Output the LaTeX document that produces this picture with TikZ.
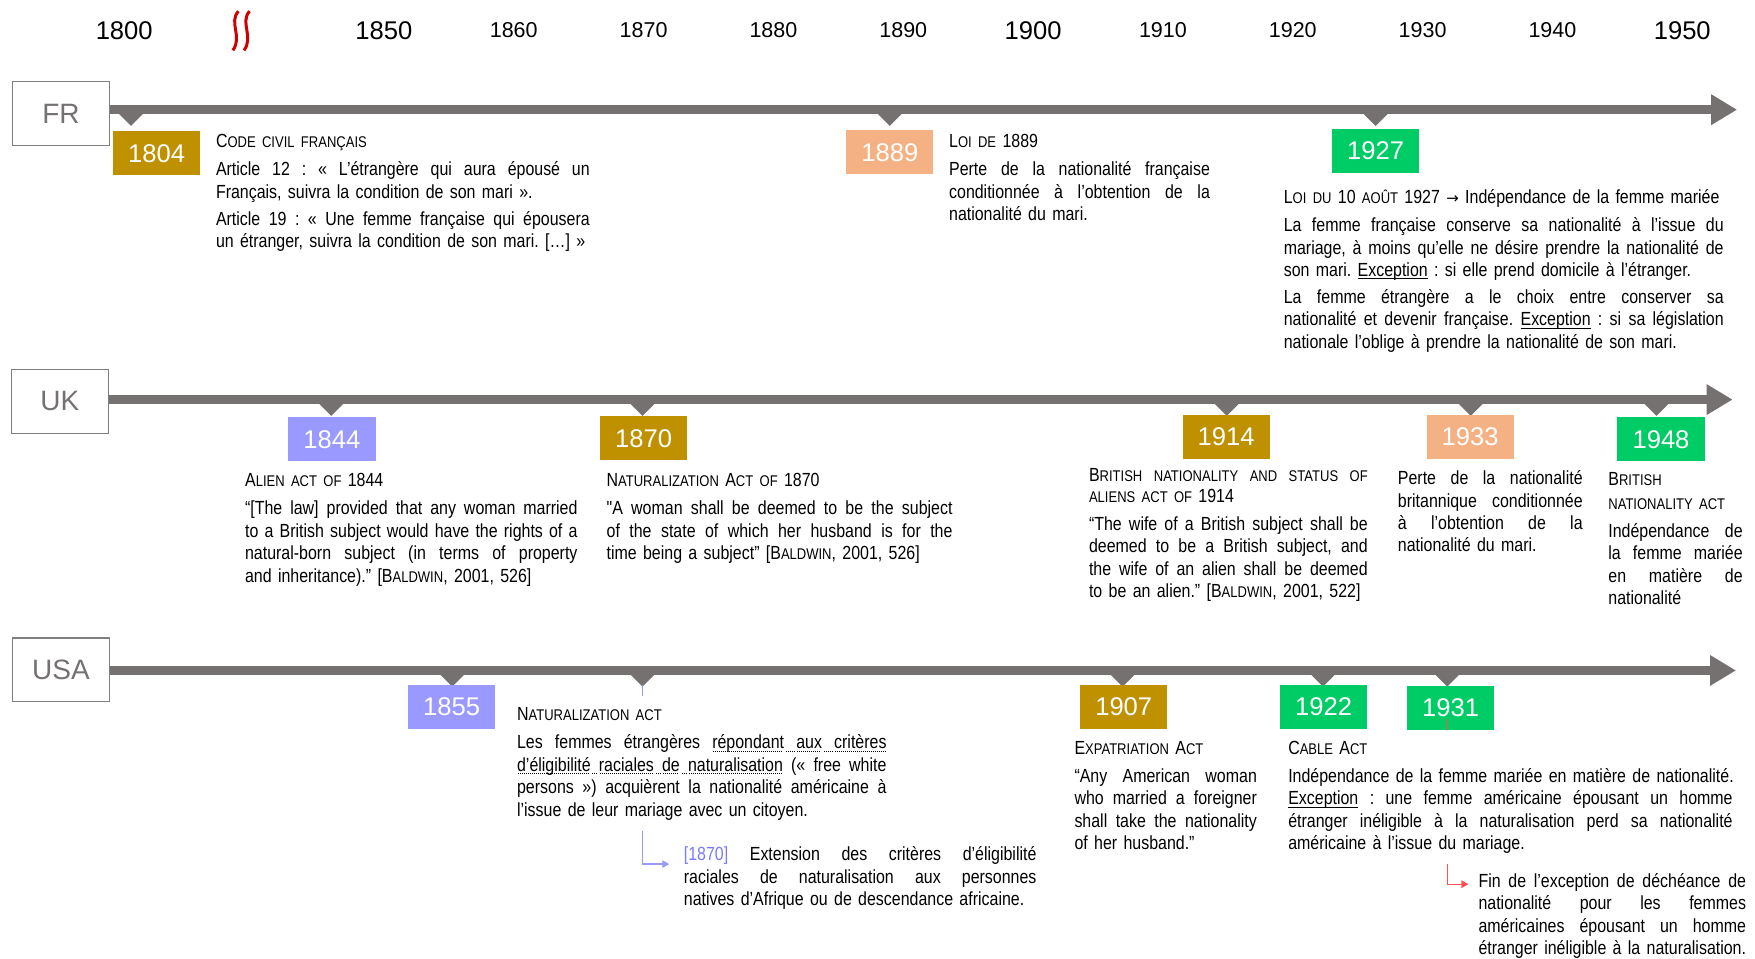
\documentclass[tikz,border=0pt]{standalone}
\usepackage{fontspec}
\setmainfont{Liberation Sans}
\newfontfamily\nar[FakeStretch=0.84]{Liberation Sans}
\newfontfamily\dejavu{DejaVu Sans}
\usetikzlibrary{arrows.meta}
\definecolor{tlgray}{HTML}{767171}
\definecolor{boxgray}{HTML}{7F7F7F}
\definecolor{cgold}{HTML}{BF9000}
\definecolor{csalmon}{HTML}{F4B183}
\definecolor{clav}{HTML}{9999FF}
\definecolor{cgreen}{HTML}{00CC66}
\definecolor{clavtxt}{HTML}{7B7BFF}
\definecolor{cred}{HTML}{FF5050}
\definecolor{csq}{HTML}{D00000}
\frenchspacing
\newcommand\bodyf{\nar\fontsize{19pt}{22.4pt}\selectfont}
\newcommand\sm[1]{{\fontsize{15.5pt}{22.4pt}\selectfont #1}}
\newcommand\J[1]{{\spaceskip=\fontdimen2\font plus 1fil\relax\xspaceskip=\spaceskip\makebox[\linewidth][s]{#1}}}
\newcommand\E[1]{\makebox[\linewidth][l]{#1}}
\newcommand\ul[1]{\setbox0\hbox{#1}\rlap{\rule[-2.6pt]{\wd0}{0.8pt}}\box0\relax}
\newcommand\dotmark{\hbox to 2pt{\hss\rule[-3pt]{0.8pt}{0.8pt}\hss}}
\newcommand\du[1]{\setbox0\hbox{#1}\rlap{\hbox to \wd0{\leaders\dotmark\hfill}}\box0\relax}
\newcommand\dsp{\leaders\dotmark\hskip\fontdimen2\font plus 1fil\relax}
\newcommand\rarr{{\dejavu\fontsize{15pt}{22.4pt}\selectfont →}}
\tikzset{
  tline/.style={draw=tlgray, line width=9pt, -{Triangle[length=26pt,width=29pt]}},
  cbox/.style={draw=boxgray, line width=1.3pt, fill=white, minimum width=97pt, minimum height=63.8pt, inner sep=0, text=tlgray, font=\fontsize{28pt}{28pt}\selectfont},
  ybox/.style={minimum width=87.3pt, minimum height=43.7pt, inner sep=0, text=white, font=\fontsize{25.6pt}{25.6pt}\selectfont},
  yrL/.style={font=\fontsize{25.6pt}{25.6pt}\selectfont, inner sep=0},
  yrS/.style={font=\fontsize{21.5pt}{21.5pt}\selectfont, inner sep=0},
  txt/.style={anchor=base west, inner sep=0, outer sep=0, align=left, font=\bodyf},
  tri/.pic={\fill[tlgray] (-14.5,0) -- (14.5,0) -- (0,14.5) -- cycle;},
  lavarrow/.style={draw=clav, line width=1.3pt, -{Triangle[length=7pt,width=7.5pt]}},
  redarrow/.style={draw=cred, line width=1.3pt, -{Triangle[length=7pt,width=7.5pt]}},
}
\begin{document}
\begin{tikzpicture}[x=1.1193pt,y=-1.1193pt]
\useasboundingbox[fill=white] (0,0) rectangle (1568,856);
% year axis
\node[yrL] (y1800) at (111,27) {1800};
\node[yrL] (y1850) at (343,27) {1850};
\node[yrS] (y1860) at (459,27) {1860};
\node[yrS] (y1870) at (575,27) {1870};
\node[yrS] (y1880) at (691,27) {1880};
\node[yrS] (y1890) at (807,27) {1890};
\node[yrL] (y1900) at (923,27) {1900};
\node[yrS] (y1910) at (1039,27) {1910};
\node[yrS] (y1920) at (1155,27) {1920};
\node[yrS] (y1930) at (1271,27) {1930};
\node[yrS] (y1940) at (1387,27) {1940};
\node[yrL] (y1950) at (1503,27) {1950};
\draw[csq, line width=3pt] (213,10) .. controls (204,20) and (217,33) .. (208,45);
\draw[csq, line width=3pt] (223,10) .. controls (214,20) and (227,33) .. (218,45);
% timelines
\node[cbox] (FR) at (54.5,101.5) {FR};
\node[cbox] (UK) at (53.5,358.5) {UK};
\node[cbox] (USA) at (54.5,598.5) {USA};
\coordinate (FRend) at (1552,98);
\coordinate (UKend) at (1548,357);
\coordinate (USAend) at (1551,599);
\draw[tline] (FR.east |- FRend) -- (FRend);
\draw[tline] (UK.east |- UKend) -- (UKend);
\draw[tline] (USA.east |- USAend) -- (USAend);
% markers
\foreach \x in {117,795,1229} \pic at (\x,98) {tri};
\foreach \x in {296,574,1096,1314,1480} \pic at (\x,357) {tri};
\foreach \x in {404,574,1003,1182,1293} \pic at (\x,599) {tri};
% year boxes
\node[ybox, fill=cgold] (b1804) at (140,137) {1804};
\node[ybox, fill=csalmon] (b1889) at (795,136) {1889};
\node[ybox, fill=cgreen] (b1927) at (1229,135) {1927};
\node[ybox, fill=clav] (b1844) at (296.5,392.5) {1844};
\node[ybox, fill=cgold] (b1870) at (575,391.5) {1870};
\node[ybox, fill=cgold] (b1914) at (1095.5,390.5) {1914};
\node[ybox, fill=csalmon] (b1933) at (1313.5,390.5) {1933};
\node[ybox, fill=cgreen] (b1948) at (1484,392.5) {1948};
\node[ybox, fill=clav] (b1855) at (403.5,631.5) {1855};
\node[ybox, fill=cgold] (b1907) at (1004,631.5) {1907};
\node[ybox, fill=cgreen] (b1922) at (1182.5,631.5) {1922};
\node[ybox, fill=cgreen] (b1931) at (1296,632.5) {1931};
% FR texts
\node[txt, text width=373.8pt] (t1804) at (193,132) {C\sm{ODE CIVIL FRANÇAIS}\\[5.6pt]
\J{Article 12 : « L’étrangère qui aura épousé un}\\
\E{Français, suivra la condition de son mari ».}\\[4.5pt]
\J{Article 19 : « Une femme française qui épousera}\\
\E{un étranger, suivra la condition de son mari. […] »}};
\node[txt, text width=260.8pt] (t1889) at (848,132) {L\sm{OI DE} 1889\\[5.6pt]
\J{Perte de la nationalité française}\\
\J{conditionnée à l’obtention de la}\\
\E{nationalité du mari.}};
\node[txt, text width=439.9pt] (t1927) at (1147,182) {\E{L\sm{OI DU} 10 \sm{AOÛT} 1927 \rarr{} Indépendance de la femme mariée}\\[5.6pt]
\J{La femme française conserve sa nationalité à l’issue du}\\
\J{mariage, à moins qu’elle ne désire prendre la nationalité de}\\
\E{son mari. \ul{Exception} : si elle prend domicile à l’étranger.}\\[4.5pt]
\J{La femme étrangère a le choix entre conserver sa}\\
\J{nationalité et devenir française. \ul{Exception} : si sa législation}\\
\E{nationale l’oblige à prendre la nationalité de son mari.}};
% UK texts
\node[txt, text width=332.4pt] (t1844) at (219,435) {A\sm{LIEN ACT OF} 1844\\[5.6pt]
\J{“[The law] provided that any woman married}\\
\J{to a British subject would have the rights of a}\\
\J{natural-born subject (in terms of property}\\
\E{and inheritance).” [B\sm{ALDWIN}, 2001, 526]}};
\node[txt, text width=345.9pt] (t1870) at (542,435) {N\sm{ATURALIZATION} A\sm{CT OF} 1870\\[5.6pt]
\J{"A woman shall be deemed to be the subject}\\
\J{of the state of which her husband is for the}\\
\E{time being a subject” [B\sm{ALDWIN}, 2001, 526]}};
\node[txt, text width=278.7pt] (t1914) at (973,430) {\J{B\sm{RITISH NATIONALITY AND STATUS OF}}\\[-1.1pt]
\E{\sm{ALIENS ACT OF} 1914}\\[5.6pt]
\J{“The wife of a British subject shall be}\\
\J{deemed to be a British subject, and}\\
\J{the wife of an alien shall be deemed}\\
\E{to be an alien.” [B\sm{ALDWIN}, 2001, 522]}};
\node[txt, text width=184.7pt] (t1933) at (1249,433) {\J{Perte de la nationalité}\\
\J{britannique conditionnée}\\
\J{à l’obtention de la}\\
\E{nationalité du mari.}};
\node[txt, text width=134.3pt] (t1948) at (1437,434) {\E{B\sm{RITISH}}\\[1.1pt]
\E{\sm{NATIONALITY ACT}}\\[5.6pt]
\J{Indépendance de}\\
\J{la femme mariée}\\
\J{en matière de}\\
\E{nationalité}};
% USA texts
\node[txt, text width=369.4pt] (t1855) at (462,644) {N\sm{ATURALIZATION ACT}\\[5.6pt]
\J{Les femmes étrangères \du{répondant}\dsp\du{aux}\dsp\du{critères}}\\
\J{\du{d’éligibilité}\dsp\du{raciales}\dsp\du{de}\dsp\du{naturalisation} (« free white}\\
\J{persons ») acquièrent la nationalité américaine à}\\
\E{l’issue de leur mariage avec un citoyen.}};
\node[txt, text width=352.6pt] (t1870b) at (611,769) {\J{{\color{clavtxt}[1870]} Extension des critères d’éligibilité}\\
\J{raciales de naturalisation aux personnes}\\
\E{natives d’Afrique ou de descendance africaine.}};
\node[txt, text width=182.4pt] (t1907) at (960,674) {E\sm{XPATRIATION} A\sm{CT}\\[5.6pt]
\J{“Any American woman}\\
\J{who married a foreigner}\\
\J{shall take the nationality}\\
\E{of her husband.”}};
\node[txt, text width=444.4pt] (t1922) at (1151,674) {C\sm{ABLE} A\sm{CT}\\[5.6pt]
\E{Indépendance de la femme mariée en matière de nationalité.}\\
\J{\ul{Exception} : une femme américaine épousant un homme}\\
\J{étranger inéligible à la naturalisation perd sa nationalité}\\
\E{américaine à l’issue du mariage.}};
\node[txt, text width=267.5pt] (t1931) at (1321,793) {\J{Fin de l’exception de déchéance de}\\
\J{nationalité pour les femmes}\\
\J{américaines épousant un homme}\\
\E{étranger inéligible à la naturalisation.}};
% sub connectors
\coordinate (naTip) at (574,612);
\coordinate (naTick) at (574,622);
\draw[clav, line width=1.2pt] (naTip) -- (naTick);
\coordinate (naA) at (574,742);
\coordinate (naB) at (598,772);
\draw[lavarrow] (naA) |- (naB);
\coordinate (rdA) at (1293,642);
\draw[cred, line width=1.2pt] (rdA) -- (rdA |- b1931.south);
\coordinate (rdB) at (1293,772);
\coordinate (rdC) at (1312,790);
\draw[redarrow] (rdB) |- (rdC);
\end{tikzpicture}
\end{document}
